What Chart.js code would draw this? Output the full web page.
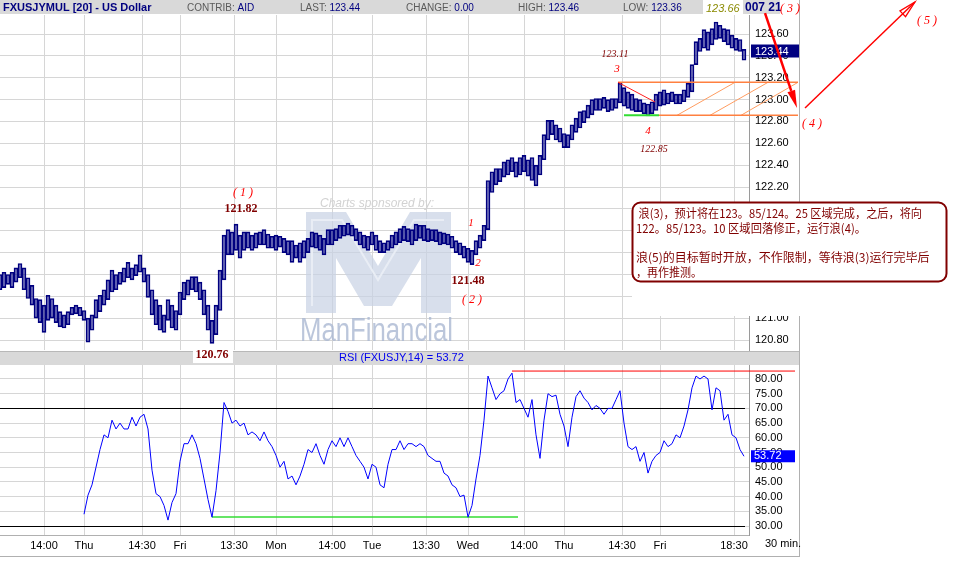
<!DOCTYPE html>
<html><head><meta charset="utf-8">
<script src="https://cdn.jsdelivr.net/npm/chart.js@4/dist/chart.umd.min.js"></script>
<style>
html,body{margin:0;padding:0;background:#fff;width:958px;height:587px;overflow:hidden}
#pc{position:absolute;left:0;top:0;z-index:2}
#rc{position:absolute;left:0;top:350px;z-index:1}
</style></head><body>
<canvas id="pc" width="958" height="365"></canvas>
<canvas id="rc" width="958" height="237"></canvas>
<script>
// ---------- DATA ----------
// time axis: hours since the first Wednesday 00:00 (weekend removed), 30-min chart
const firstHour = 3;
const priceHigh = [
121.40,121.42,121.40,121.42,121.46,121.50,121.46,121.37,121.30,121.18,
121.17,121.12,121.21,121.18,121.12,121.06,121.03,121.06,121.10,121.12,
121.10,121.07,121.00,121.03,121.17,121.21,121.26,121.35,121.44,121.40,
121.42,121.46,121.51,121.46,121.49,121.58,121.46,121.40,121.26,121.17,
121.12,121.03,121.17,121.12,121.07,121.24,121.33,121.35,121.38,121.38,
121.33,121.26,121.12,120.98,121.12,121.44,121.76,121.81,121.79,121.86,
121.76,121.79,121.79,121.76,121.78,121.79,121.81,121.77,121.75,121.76,
121.75,121.73,121.71,121.71,121.67,121.69,121.71,121.73,121.79,121.78,
121.76,121.73,121.81,121.81,121.82,121.85,121.85,121.87,121.85,121.82,
121.79,121.76,121.75,121.79,121.76,121.71,121.69,121.71,121.76,121.79,
121.82,121.84,121.82,121.81,121.86,121.85,121.85,121.82,121.81,121.81,
121.79,121.78,121.77,121.75,121.71,121.69,121.66,121.64,121.62,121.71,
121.76,121.85,122.26,122.34,122.37,122.37,122.43,122.45,122.47,122.43,
122.47,122.49,122.45,122.47,122.40,122.49,122.68,122.81,122.81,122.77,
122.74,122.69,122.68,122.77,122.83,122.89,122.90,122.95,123.00,123.01,
123.01,123.02,123.00,123.01,123.01,123.15,123.11,123.07,123.05,123.01,
123.00,122.97,122.96,122.98,123.05,123.07,123.09,123.06,123.07,123.05,
123.05,123.09,123.15,123.32,123.53,123.56,123.64,123.62,123.65,123.71,
123.68,123.65,123.64,123.59,123.56,123.55,123.46];
const priceLow = [
121.26,121.28,121.31,121.28,121.33,121.37,121.26,121.18,121.12,121.00,
120.96,120.87,120.98,121.00,120.96,120.92,120.91,120.94,121.03,121.04,
121.02,120.98,120.78,120.89,121.00,121.06,121.12,121.17,121.24,121.26,
121.31,121.33,121.37,121.35,121.39,121.42,121.33,121.19,121.03,120.94,
120.89,120.87,120.98,120.91,120.89,121.03,121.17,121.21,121.26,121.24,
121.17,121.03,120.89,120.77,120.85,121.07,121.35,121.58,121.58,121.62,
121.55,121.62,121.64,121.62,121.64,121.67,121.67,121.64,121.64,121.62,
121.65,121.60,121.58,121.51,121.55,121.51,121.55,121.60,121.65,121.64,
121.62,121.58,121.67,121.67,121.71,121.73,121.75,121.76,121.75,121.71,
121.67,121.64,121.62,121.67,121.62,121.60,121.60,121.62,121.64,121.67,
121.69,121.71,121.70,121.67,121.71,121.73,121.71,121.70,121.71,121.70,
121.67,121.68,121.67,121.64,121.60,121.58,121.55,121.51,121.49,121.58,
121.64,121.71,121.81,122.15,122.22,122.25,122.29,122.31,122.34,122.29,
122.31,122.34,122.30,122.26,122.21,122.31,122.45,122.63,122.68,122.63,
122.61,122.56,122.56,122.63,122.70,122.74,122.79,122.83,122.86,122.90,
122.90,122.92,122.89,122.90,122.92,122.97,122.94,122.92,122.90,122.89,
122.89,122.87,122.85,122.87,122.90,122.94,122.95,122.96,122.98,122.96,
122.96,122.98,123.02,123.07,123.32,123.44,123.47,123.45,123.50,123.55,
123.56,123.53,123.50,123.47,123.45,123.44,123.36];
const rsiFirstHour = 24;
const rsiValues = [
34,40.5,44,50,56,61,60,66,63,65,
63,63,67,64,67,68,63,49,41,40,
37,32,38,41,52,58,58,61,58,53,
46,39,33,42,55,72,69,65,66,64,
65,61,62,61,59,62,59,57,54,50,
52,46,47,44,47,51,56,55,58,54,
51,56,59,57,60,57,60,57,54,52,
50,46,51,50,44,43,51,56,56,59,
56,58,58,57,58,57,54,53,52,52,
48,47,44,43,40,40.5,33,37,46,54,
66,81,77,73,75,76,80,82,72,73,
70,67,73,61,53,66,75,74,74.5,68,
64,57,67,74,76,73.5,72,69.5,71,70,
68,70,70,73,76,65,57,56,57,52,
55,48,52,54,55,59,57,58,61,60,
64,69.5,77,81,80,81,80,69.5,77,76,
66,68,61,60,56,53.72];
const tickHours  = [14, 24, 38.5, 48, 61.5, 72, 86, 96, 109.5, 120, 134, 144, 158.5, 168, 186.5];
const tickLabels = ['14:00','Thu','14:30','Fri','13:30','Mon','14:00','Tue','13:30','Wed','14:00','Thu','14:30','Fri','18:30'];
const titleText = 'FXUSJYMUL [20] - US Dollar';
const contribText = 'AID';
const lastText = '123.44';
const changeText = '0.00';
const highText = '123.46';
const lowText = '123.36';
const lastPrice = 123.44;
const lastRsi = 53.72;
const noteLines = [' 浪(3)，预计将在123。85/124。25 区域完成，之后，将向',
                   '122。85/123。10 区域回落修正，运行浪(4)。',
                   '',
                   '浪(5)的目标暂时开放，不作限制，等待浪(3)运行完毕后',
                   '，再作推测。'];

// ---------- SCALE RANGES ----------
const xMin = 3, xMax = 190.25;
const priceMin = 120.709, priceMax = 123.774;
const rsiMin = 26.94, rsiMax = 84.76;

const GRID = '#d6d6d6';
const FONT = '"Liberation Sans", Arial, sans-serif';
const NARROW = '"Liberation Sans Narrow", "Liberation Sans", Arial, sans-serif';
const SERIF = '"Liberation Serif", "Times New Roman", serif';
const CJK = '"Noto Sans CJK SC", "Noto Sans CJK TC", sans-serif';

function drawText(ctx, s, x, y, font, color, align, maxW) {
  ctx.save();
  ctx.font = font; ctx.fillStyle = color; ctx.textAlign = align || 'left'; ctx.textBaseline = 'middle';
  if (maxW && ctx.measureText(s).width > maxW) ctx.fillText(s, x, y, maxW); else ctx.fillText(s, x, y);
  ctx.restore();
}
function seg(ctx, a, b, color, w) {
  ctx.save(); ctx.strokeStyle = color; ctx.lineWidth = w; ctx.beginPath();
  ctx.moveTo(a[0], a[1]); ctx.lineTo(b[0], b[1]); ctx.stroke(); ctx.restore();
}
function arrow(ctx, a, b, color, w, len, half, filled) {
  ctx.save(); ctx.strokeStyle = color; ctx.fillStyle = color; ctx.lineWidth = w;
  const ang = Math.atan2(b[1]-a[1], b[0]-a[0]);
  const bx = b[0]-len*Math.cos(ang), by = b[1]-len*Math.sin(ang);
  const nx = -Math.sin(ang)*half, ny = Math.cos(ang)*half;
  ctx.beginPath(); ctx.moveTo(a[0], a[1]); ctx.lineTo(filled ? bx : b[0], filled ? by : b[1]); ctx.stroke();
  ctx.beginPath(); ctx.moveTo(b[0], b[1]); ctx.lineTo(bx+nx, by+ny); ctx.lineTo(bx-nx, by-ny); ctx.closePath();
  if (filled) ctx.fill(); else { ctx.lineWidth = 1.3; ctx.stroke(); }
  ctx.restore();
}
function labelPair(ctx, x, label, value) {
  ctx.save(); ctx.font = '10px ' + FONT; ctx.textBaseline = 'middle';
  ctx.fillStyle = '#5a5a5a'; ctx.fillText(label, x, 8);
  const w = ctx.measureText(label).width;
  ctx.fillStyle = '#000080'; ctx.fillText(value, x + w, 8);
  ctx.restore();
}

const pricePlugin = {
  id: 'priceDeco',
  beforeDatasetsDraw(chart) {
    const ctx = chart.ctx, ca = chart.chartArea;
    ctx.save();
    ctx.beginPath(); ctx.rect(ca.left, ca.top, ca.right - ca.left, ca.bottom - ca.top); ctx.clip();
    // sponsor watermark
    ctx.fillStyle = 'rgba(200,209,228,0.7)';
    ctx.beginPath();
    const M = [[306,212],[346,212],[378,266],[410,212],[451,212],[451,313],[421,313],[421,258],[392,306],[364,306],[336,258],[336,313],[306,313]];
    M.forEach((p,i)=> i ? ctx.lineTo(p[0],p[1]) : ctx.moveTo(p[0],p[1]));
    ctx.closePath(); ctx.fill();
    ctx.strokeStyle = 'rgba(235,239,246,0.9)'; ctx.lineWidth = 2;
    ctx.beginPath(); ctx.moveTo(312,306); ctx.lineTo(312,220); ctx.lineTo(342,220); ctx.lineTo(378,280); ctx.lineTo(414,220); ctx.lineTo(444,220); ctx.stroke();
    ctx.restore();
    drawText(ctx, 'Charts sponsored by:', 320, 204, 'italic 12px ' + FONT, '#d2d2d2', 'left', 116);
    drawText(ctx, 'ManFinancial', 300, 332, '34px ' + FONT, 'rgba(170,184,210,0.8)', 'left', 153);
  },
  afterDatasetsDraw(chart) {
    const ctx = chart.ctx, X = chart.scales.x, Y = chart.scales.y;
    const P = (t, p) => [X.getPixelForValue(t), Y.getPixelForValue(p)];
    // header bar
    ctx.save();
    ctx.fillStyle = '#d9d9d9'; ctx.fillRect(0, 0, 780, 14);
    ctx.restore();
    drawText(ctx, titleText, 3, 8, 'bold 11px ' + FONT, '#000080', 'left', 156);
    labelPair(ctx, 187, 'CONTRIB: ', contribText);
    labelPair(ctx, 300, 'LAST: ', lastText);
    labelPair(ctx, 406, 'CHANGE: ', changeText);
    labelPair(ctx, 518, 'HIGH: ', highText);
    labelPair(ctx, 623, 'LOW: ', lowText);
    ctx.save(); ctx.fillStyle = '#fff'; ctx.fillRect(703, 0, 40, 15); ctx.restore();
    drawText(ctx, '123.66', 706, 9, 'italic 11px ' + FONT, '#8a8a00');
    drawText(ctx, '007 21:', 745, 8, 'bold 12px ' + FONT, '#000080');
    ctx.save(); ctx.fillStyle = '#fff'; ctx.fillRect(781, 0, 19, 15); ctx.restore();
    // right border
    seg(ctx, [799.5, 0], [799.5, 350], '#b0b0b0', 1);

    // wave (4) channel
    const hiP = 123.158, loP = 122.856;
    [[172.25,186.75],[180.5,195],[188.25,202.5]].forEach(d => seg(ctx, P(d[0], loP), P(d[1], hiP), '#ff9c60', 1));
    seg(ctx, P(157.5, hiP), P(202.5, hiP), '#ff8040', 1.5);
    seg(ctx, P(167.75, loP), P(202.5, loP), '#ff8040', 1.5);
    seg(ctx, P(159, loP), P(167.75, loP), '#33dd33', 2);
    seg(ctx, P(157.5, hiP), P(166.75, 122.978), '#ff2020', 1);

    // white area + note box
    ctx.save();
    ctx.fillStyle = '#fff'; ctx.fillRect(632, 202, 168, 114);
    ctx.beginPath(); ctx.roundRect(632.5, 202.5, 314, 79, 8);
    ctx.fillStyle = '#fff'; ctx.fill();
    ctx.strokeStyle = '#800000'; ctx.lineWidth = 2; ctx.stroke();
    ctx.restore();
    const ly = [213, 228, 243, 257, 272];
    const lw = [286, 230, 0, 297, 66];
    noteLines.forEach((s, i) => { if (s) drawText(ctx, s, 636, ly[i], '12px ' + CJK, '#800000', 'left', lw[i]); });

    // last price box
    const yb = Y.getPixelForValue(lastPrice);
    ctx.save(); ctx.fillStyle = '#000080'; ctx.fillRect(751, yb - 7, 48, 13); ctx.restore();
    drawText(ctx, lastPrice.toFixed(2), 755, yb, '11px ' + FONT, '#ffffff');

    // wave labels
    const red = '#ff0000', dred = '#800000';
    const wav = 'italic 12px ' + SERIF;
    drawText(ctx, '( 1 )', ...P(63.75, 122.145), wav, red, 'center');
    drawText(ctx, '121.82', ...P(63.25, 121.999), 'bold 12px ' + SERIF, dred, 'center');
    drawText(ctx, '1', ...P(120.75, 121.871), 'italic 11px ' + SERIF, red, 'center');
    drawText(ctx, '2', ...P(122.5, 121.505), 'italic 11px ' + SERIF, red, 'center');
    drawText(ctx, '121.48', ...P(120, 121.340), 'bold 12px ' + SERIF, dred, 'center');
    drawText(ctx, '( 2 )', ...P(121, 121.166), wav, red, 'center');
    drawText(ctx, '123.11', ...P(156.75, 123.417), 'italic 10px ' + SERIF, dred, 'center');
    drawText(ctx, '3', ...P(157.25, 123.280), 'italic 11px ' + SERIF, red, 'center');
    drawText(ctx, '4', ...P(165, 122.713), 'italic 11px ' + SERIF, red, 'center');
    drawText(ctx, '122.85', ...P(166.5, 122.548), 'italic 10px ' + SERIF, dred, 'center');
    drawText(ctx, '( 4 )', ...P(206, 122.777), wav, red, 'center');
    drawText(ctx, '( 5 )', ...P(234.75, 123.719), wav, red, 'center');
    drawText(ctx, '( 3 )', ...P(200.5, 123.829), wav, red, 'center');
    const lowPt = P(56, 120.663);
    ctx.save(); ctx.fillStyle = '#fff'; ctx.fillRect(lowPt[0] - 19, lowPt[1] - 8, 40, 16); ctx.restore();
    drawText(ctx, '120.76', lowPt[0], lowPt[1], 'bold 12px ' + SERIF, dred, 'center');

    // projection arrows
    arrow(ctx, P(194.25, 123.792), P(202.25, 122.923), '#ff0000', 2.5, 18, 4, true);
    arrow(ctx, P(204.25, 122.923), P(231.75, 123.893), '#ff0000', 1.5, 17, 4, false);
  }
};

const barData = priceHigh.map((h, i) => ({ x: firstHour + i, y: [priceLow[i], h] }));
new Chart(document.getElementById('pc').getContext('2d'), {
  type: 'bar',
  data: { datasets: [{ data: barData, backgroundColor: 'rgba(0,0,128,0.45)', borderColor: '#000080', borderWidth: 1, borderSkipped: false, barThickness: 4 }] },
  options: {
    responsive: false, animation: false, devicePixelRatio: 1,
    layout: { padding: { top: 15, right: 158, bottom: 15, left: 0 } },
    plugins: { legend: { display: false }, tooltip: { enabled: false } },
    scales: {
      x: {
        type: 'linear', min: xMin, max: xMax, offset: false,
        grid: { color: GRID, offset: false, drawTicks: false }, border: { display: false },
        ticks: { display: false },
        afterBuildTicks: s => { s.ticks = tickHours.map(v => ({ value: v })); },
        afterFit: s => { s.height = 0; }
      },
      y: {
        position: 'right', min: priceMin, max: priceMax,
        grid: { color: GRID, drawTicks: false }, border: { color: '#9a9a9a' },
        ticks: { stepSize: 0.2, includeBounds: false, padding: 6, color: '#000', font: { family: FONT, size: 11 },
                 callback: v => Number(v).toFixed(2) },
        afterFit: s => { s.width = 51; }
      }
    }
  },
  plugins: [pricePlugin]
});

const rsiPlugin = {
  id: 'rsiDeco',
  beforeDraw(chart) {
    const ctx = chart.ctx;
    ctx.save();
    ctx.fillStyle = '#d9d9d9'; ctx.fillRect(0, 1, 800, 14);
    ctx.strokeStyle = '#b8b8b8'; ctx.lineWidth = 1;
    ctx.beginPath(); ctx.moveTo(0, 1.5); ctx.lineTo(800, 1.5); ctx.stroke();
    ctx.restore();
    drawText(ctx, 'RSI (FXUSJY,14) = ' + lastRsi.toFixed(2), 339, 8, '11px ' + FONT, '#0000ee');
  },
  beforeDatasetsDraw(chart) {
    const ctx = chart.ctx, X = chart.scales.x, Y = chart.scales.y, ca = chart.chartArea;
    const P = (t, v) => [X.getPixelForValue(t), Y.getPixelForValue(v)];
    [70, 30].forEach(v => { const y = Math.round(Y.getPixelForValue(v)) + 0.5; seg(ctx, [ca.left, y], [ca.right - 4, y], '#000', 1); });
    seg(ctx, P(131, 82.7), P(201.75, 82.7), '#ff0000', 1);
    seg(ctx, P(56, 33.06), P(132.5, 33.06), '#33dd33', 1.5);
  },
  afterDatasetsDraw(chart) {
    const ctx = chart.ctx, Y = chart.scales.y;
    const yb = Y.getPixelForValue(lastRsi);
    ctx.save(); ctx.fillStyle = '#0000ff'; ctx.fillRect(751, yb - 6, 44, 12); ctx.restore();
    drawText(ctx, lastRsi.toFixed(2), 754, yb, '11px ' + FONT, '#ffffff');
  },
  afterDraw(chart) {
    const ctx = chart.ctx;
    seg(ctx, [0, 206.5], [800, 206.5], '#b0b0b0', 1);
    seg(ctx, [799.5, 0], [799.5, 207], '#b0b0b0', 1);
    drawText(ctx, '30 min.', 765, 194, '11px ' + NARROW, '#000');
  }
};

const rsiData = rsiValues.map((v, i) => ({ x: rsiFirstHour + i, y: v }));
new Chart(document.getElementById('rc').getContext('2d'), {
  type: 'line',
  data: { datasets: [{ data: rsiData, borderColor: '#0000ff', borderWidth: 1, pointRadius: 0, tension: 0, fill: false }] },
  options: {
    responsive: false, animation: false, devicePixelRatio: 1,
    layout: { padding: { top: 15, right: 158, bottom: 31, left: 0 } },
    plugins: { legend: { display: false }, tooltip: { enabled: false } },
    scales: {
      x: {
        type: 'linear', min: xMin, max: xMax,
        grid: { color: GRID, drawTicks: false }, border: { color: '#b0b0b0' },
        ticks: { padding: 4, autoSkip: false, maxRotation: 0, color: '#000', font: { family: NARROW, size: 11 },
                 callback: (v, i) => tickLabels[i] },
        afterBuildTicks: s => { s.ticks = tickHours.map(v => ({ value: v })); },
        afterFit: s => { s.height = 21; }
      },
      y: {
        position: 'right', min: rsiMin, max: rsiMax,
        grid: { color: GRID, drawTicks: false }, border: { color: '#9a9a9a' },
        ticks: { stepSize: 5, includeBounds: false, padding: 6, color: '#000', font: { family: FONT, size: 11 },
                 callback: v => Number(v).toFixed(2) },
        afterFit: s => { s.width = 51; }
      }
    }
  },
  plugins: [rsiPlugin]
});
</script>
</body></html>
